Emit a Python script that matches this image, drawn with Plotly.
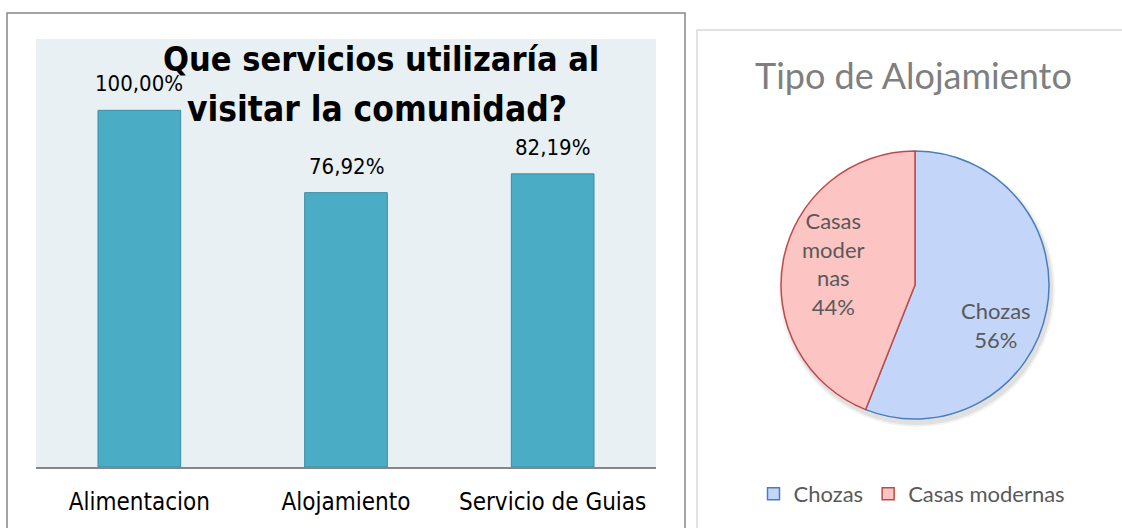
import math
import plotly.graph_objects as go

# --- data -------------------------------------------------------------
servicios = ["Alimentacion", "Alojamiento", "Servicio de Guias"]
porcentajes = [100.00, 76.92, 82.19]

tipos = ["Chozas", "Casas modernas"]
tipos_etiqueta = ["Chozas", "Casas<br>moder<br>nas"]
proporciones = [56, 44]

W, H = 1122, 528
NARROW = "DejaVu Sans Condensed, Liberation Sans, sans-serif"
SOFT = "Lato, sans-serif"


def px(x):
    return x / W


def py(y):
    return 1 - y / H


fig = go.Figure()

# --- bar chart: services used -----------------------------------------
fig.add_trace(go.Bar(
    x=servicios,
    y=porcentajes,
    width=0.4,
    marker=dict(color="#4BACC6", line=dict(color="#3B8CA3", width=1)),
    showlegend=False,
    hoverinfo="x+y",
))

for s, v in zip(servicios, porcentajes):
    fig.add_annotation(
        x=s, y=v, xref="x", yref="y",
        text=f"{v:.2f}%".replace(".", ","),
        showarrow=False, yanchor="bottom", yshift=12,
        font=dict(family=NARROW, size=22, color="#000000"),
    )

# --- pie chart: lodging type ------------------------------------------
pie_cx, pie_cy, pie_r = 915, 285, 134

# soft drop shadow under the pie
for grow, alpha in [(4, 0.05), (2, 0.07)]:
    fig.add_shape(type="circle", xref="paper", yref="paper",
                  x0=px(pie_cx - pie_r - grow + 2), x1=px(pie_cx + pie_r + grow + 2),
                  y0=py(pie_cy + pie_r + grow + 4), y1=py(pie_cy - pie_r - grow + 4),
                  fillcolor=f"rgba(0,0,0,{alpha})", line=dict(width=0),
                  layer="below")

fig.add_trace(go.Pie(
    labels=tipos,
    values=proporciones,
    textinfo="none",
    sort=False,
    direction="clockwise",
    rotation=0,
    marker=dict(colors=["#C3D6FA", "#FCC5C4"],
                line=dict(color=["#4A7EBB", "#BE4B48"], width=1.5)),
    domain=dict(x=[px(pie_cx - pie_r), px(pie_cx + pie_r)],
                y=[py(pie_cy + pie_r), py(pie_cy - pie_r)]),
    hoverinfo="label+percent",
))

# slice labels placed along each slice's bisector, nudged slightly down
total = sum(proporciones)
start = 0.0
for etiqueta, v in zip(tipos_etiqueta, proporciones):
    share = v / total
    mid = math.radians((start + share / 2) * 360 + 10)
    start += share
    lx = pie_cx + 0.65 * pie_r * math.sin(mid)
    ly = pie_cy - 0.65 * pie_r * math.cos(mid) + 9
    fig.add_annotation(
        x=px(lx), y=py(ly), xref="paper", yref="paper",
        text=f"{etiqueta}<br>{round(share * 100)}%",
        showarrow=False, xanchor="center", yanchor="middle",
        font=dict(family=SOFT, size=22, color="#595959"),
    )

fig.update_layout(
    width=W, height=H,
    margin=dict(l=0, r=0, t=0, b=0),
    paper_bgcolor="#FFFFFF",
    plot_bgcolor="#E9F0F3",
    xaxis=dict(
        domain=[px(36), px(656)],
        showline=True, linecolor="#868686", linewidth=1.5,
        ticks="outside", ticklen=12, tickcolor="rgba(0,0,0,0)",
        tickfont=dict(family=NARROW, size=24, color="#000000"),
        showgrid=False, zeroline=False, fixedrange=True,
    ),
    yaxis=dict(
        domain=[py(467), py(39)],
        range=[0, 120],
        showticklabels=False, showgrid=False, zeroline=False,
        showline=False, fixedrange=True,
    ),
    legend=dict(
        orientation="h",
        x=px(912), xanchor="center",
        y=py(494), yanchor="middle",
        font=dict(family=SOFT, size=22, color="#595959"),
        itemwidth=30,
    ),
    showlegend=True,
)

# titles
fig.add_annotation(
    x=px(381), y=py(59), xref="paper", yref="paper",
    text="<b>Que servicios utilizaría al</b>",
    showarrow=False, xanchor="center", yanchor="middle",
    font=dict(family=NARROW, size=34, color="#000000"),
)
fig.add_annotation(
    x=px(377), y=py(109), xref="paper", yref="paper",
    text="<b>visitar la comunidad?</b>",
    showarrow=False, xanchor="center", yanchor="middle",
    font=dict(family=NARROW, size=35, color="#000000"),
)
fig.add_annotation(
    x=px(913), y=py(75), xref="paper", yref="paper",
    text="Tipo de Alojamiento",
    showarrow=False, xanchor="center", yanchor="middle",
    font=dict(family=SOFT, size=36, color="#7F7F7F"),
)

# panel frames
fig.add_shape(type="rect", xref="paper", yref="paper",
              x0=px(7), x1=px(685), y0=-0.05, y1=py(13),
              line=dict(color="#868686", width=1.5), layer="below")
fig.add_shape(type="rect", xref="paper", yref="paper",
              x0=px(697), x1=1.05, y0=-0.05, y1=py(30),
              line=dict(color="#D9D9D9", width=1.5), layer="below")

fig.write_html("out.html")
